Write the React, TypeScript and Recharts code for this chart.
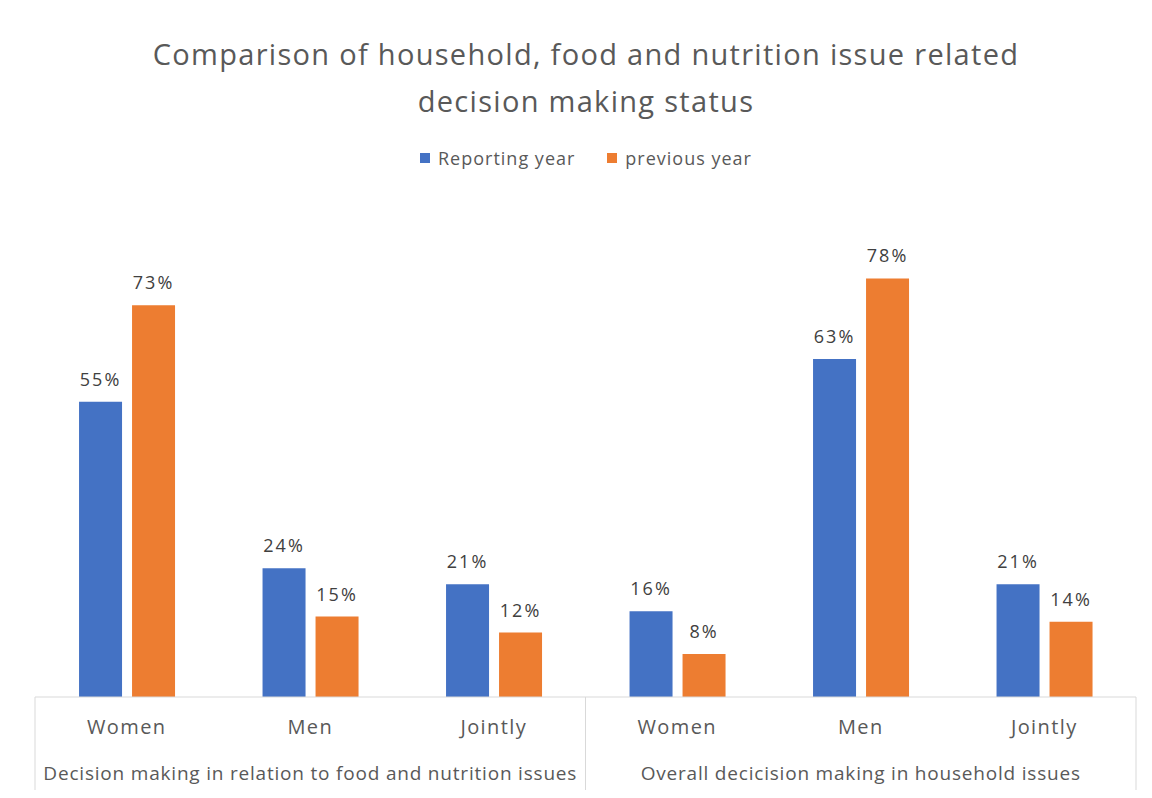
import { BarChart, Bar, XAxis, YAxis, Legend, LabelList } from 'recharts';

const categories = ['Women', 'Men', 'Jointly', 'Women', 'Men', 'Jointly'];
const groups = [
  'Decision making in relation to food and nutrition issues',
  'Overall decicision making in household issues',
];
const reportingYear = [55, 24, 21, 16, 63, 21];
const previousYear = [73, 15, 12, 8, 78, 14];

const data = categories.map((name, i) => ({
  name,
  group: groups[i < 3 ? 0 : 1],
  reporting: reportingYear[i],
  previous: previousYear[i],
}));

const FONT = '"Open Sans", Lato, sans-serif';
const GRID = '#d9d9d9';
const TEXT = '#595959';

//@ts-ignore
const CategoryTick = ({ x, y, payload, index }) => {
  const half = payload.offset || 0;
  const lineBottom = y + 93;
  return (
    <g>
      <text x={x} y={y + 37} textAnchor="middle" fill={TEXT} fontSize={20} fontFamily={FONT} letterSpacing={1.4}>
        {payload.value}
      </text>
      {index % 3 === 0 && (
        <line x1={x - half} y1={y} x2={x - half} y2={lineBottom} stroke={GRID} />
      )}
      {index === categories.length - 1 && (
        <line x1={x + half} y1={y} x2={x + half} y2={lineBottom} stroke={GRID} />
      )}
      {index % 3 === 1 && (
        <text x={x} y={y + 83} textAnchor="middle" fill={TEXT} fontSize={19} fontFamily={FONT} letterSpacing={0.8}>
          {groups[Math.floor(index / 3)]}
        </text>
      )}
    </g>
  );
};

//@ts-ignore
const LegendContent = ({ payload }) => (
  <div style={{ display: 'flex', justifyContent: 'center', gap: 32, fontFamily: FONT, fontSize: 18, color: TEXT, letterSpacing: 1 }}>
    {/* @ts-ignore */}
    {payload.map((p) => (
      <div key={p.value} style={{ display: 'flex', alignItems: 'center', gap: 8 }}>
        <span style={{ width: 10, height: 10, background: p.color, display: 'inline-block' }} />
        <span>{p.value}</span>
      </div>
    ))}
  </div>
);

export default function App() {
  return (
    <div style={{ position: 'relative', margin: -8, width: 1152, height: 798, background: '#fff', overflow: 'hidden' }}>
      <div
        style={{
          position: 'absolute', left: 6, top: 7, width: 1160, height: 800,
          border: `1px solid ${GRID}`, boxSizing: 'border-box',
        }}
      />
      <div
        style={{
          position: 'absolute', left: 0, top: 30, width: 1172, textAlign: 'center',
          fontFamily: FONT, fontSize: 29, lineHeight: '47px', color: TEXT, letterSpacing: 1.3,
        }}
      >
        Comparison of household, food and nutrition issue related
        <br />
        decision making status
      </div>
      <BarChart
        width={1152}
        height={798}
        data={data}
        margin={{ top: 214, right: 16, left: 35, bottom: 0 }}
        barGap={10}
        barCategoryGap="24%"
        style={{ position: 'absolute', left: 0, top: 0 }}
      >
        <XAxis
          dataKey="name"
          interval={0}
          height={101}
          tickLine={false}
          tickSize={0}
          tickMargin={0}
          axisLine={{ stroke: GRID }}
          //@ts-ignore
          tick={CategoryTick}
        />
        <YAxis hide domain={[0, 90]} />
        <Legend
          layout="horizontal"
          verticalAlign="middle"
          align="center"
          wrapperStyle={{ position: 'absolute', top: 146, left: 0, width: 1172, height: 26 }}
          //@ts-ignore
          content={LegendContent}
        />
        <Bar dataKey="reporting" name="Reporting year" fill="#4472c4" isAnimationActive={false}>
          <LabelList dataKey="reporting" position="top" offset={16} fill="#404040" fontSize={18} letterSpacing={2} fontFamily={FONT} formatter={(v: any) => `${v}%`} />
        </Bar>
        <Bar dataKey="previous" name="previous year" fill="#ed7d31" isAnimationActive={false}>
          <LabelList dataKey="previous" position="top" offset={16} fill="#404040" fontSize={18} letterSpacing={2} fontFamily={FONT} formatter={(v: any) => `${v}%`} />
        </Bar>
      </BarChart>
    </div>
  );
}
